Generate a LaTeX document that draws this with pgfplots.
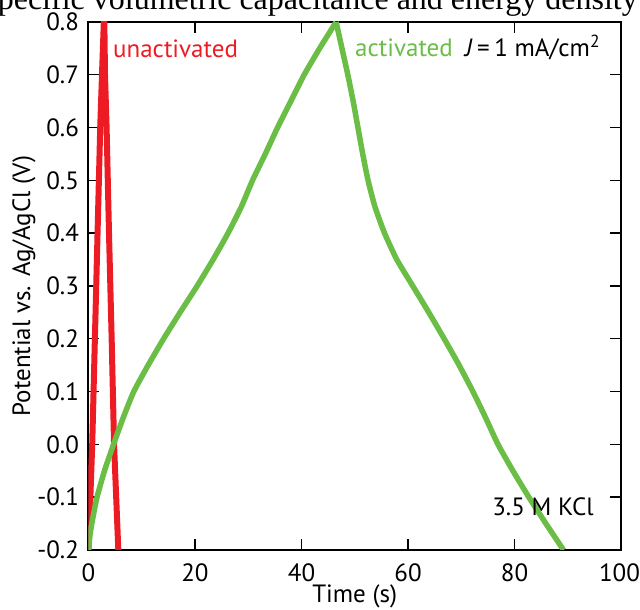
\documentclass[border=0pt]{standalone}
\usepackage{fontspec}
\usepackage{pgfplots}
\pgfplotsset{compat=1.18}
\setmainfont{PT Sans}
\newfontfamily\serifx{Liberation Serif}
\definecolor{cred}{RGB}{237,28,36}
\definecolor{cgreen}{RGB}{106,189,69}
\begin{document}
\fontsize{25}{30}\selectfont
\begin{tikzpicture}
\useasboundingbox (-88.5pt,-60pt) rectangle (551.5pt,550pt);
\node[anchor=base east, inner sep=0pt, font=\serifx\fontsize{32}{36}\selectfont] at (549.5pt,540.5pt) {specific volumetric capacitance and energy density};
\begin{axis}[
  at={(0pt,0pt)}, anchor=south west,
  scale only axis, width=532.5pt, height=528pt,
  xmin=0, xmax=100, ymin=-0.2, ymax=0.8,
  xtick={0,20,40,60,80,100},
  xticklabels={0,20,40,60,80,\hspace*{-3pt}100},
  ytick={-0.2,-0.1,0,0.1,0.2,0.3,0.4,0.5,0.6,0.7,0.8},
  yticklabels={-0.2,-0.1,0.0,0.1,0.2,0.3,0.4,0.5,0.6,0.7,0.8},
  tick align=inside,
  major tick length=11pt,
  every tick/.style={black, line width=1.4pt},
  axis line style={line width=2pt},
  xticklabel style={yshift=-5pt},
  yticklabel style={xshift=-1pt},
  xlabel={Time (s)},
  ylabel={Potential vs. Ag/AgCl (V)},
  xlabel style={at={(axis description cs:0.5,-0.088)}, anchor=center},
  ylabel style={at={(axis description cs:-0.121,0.5)}, anchor=center},
  clip=true,
]
\addplot[cred, line width=6pt, line join=round] coordinates {
(0,-0.2) (0.35,-0.1) (0.7,0.0) (1.2,0.2) (1.7,0.4) (2.2,0.6) (2.6,0.72) (2.95,0.82)
(3.1,0.7) (3.4,0.6) (3.85,0.4) (4.35,0.2) (4.8,0.0) (5.2,-0.1) (5.6,-0.2)
};
\addplot[cgreen, line width=5.5pt, line join=round, smooth, tension=0.35] coordinates {
(0,-0.2) (0.3,-0.17) (0.8,-0.14) (1.6,-0.1) (3.0,-0.05) (4.7,0.0) (6.5,0.05)
(8.5,0.1) (11.2,0.15) (14.1,0.2) (17.2,0.25) (20.4,0.3) (23.4,0.35) (26.2,0.4)
(28.7,0.45) (30.8,0.5) (33.2,0.55) (35.5,0.6) (38.0,0.65) (40.5,0.7) (43.4,0.75)
(46.5,0.8)
};
\addplot[cgreen, line width=5.5pt, line join=round, smooth, tension=0.35] coordinates {
(46.5,0.8) (47.6,0.75) (48.7,0.7) (49.7,0.65) (50.6,0.6) (51.5,0.55) (52.5,0.5)
(53.8,0.45) (55.6,0.4) (57.9,0.35) (60.9,0.3) (63.9,0.25) (66.8,0.2) (69.6,0.15)
(72.2,0.1) (74.6,0.05) (76.9,0.0) (79.7,-0.05) (82.7,-0.1) (85.9,-0.15) (89.2,-0.2)
};
\node[anchor=base west, text=cred, inner sep=0pt] at (axis cs:4.6,0.732) {unactivated};
\node[anchor=base west, text=cgreen, inner sep=0pt] at (axis cs:50.05,0.734) {activated};
\node[anchor=base west, inner sep=0pt] at (axis cs:70.7,0.734) {\textit{J}\hspace{0.18em}=\hspace{0.18em}1 mA/cm\textsuperscript{2}};
\node[anchor=base west, inner sep=0pt] at (axis cs:75.8,-0.134) {3.5 M KCl};
\end{axis}
\end{tikzpicture}
\end{document}
